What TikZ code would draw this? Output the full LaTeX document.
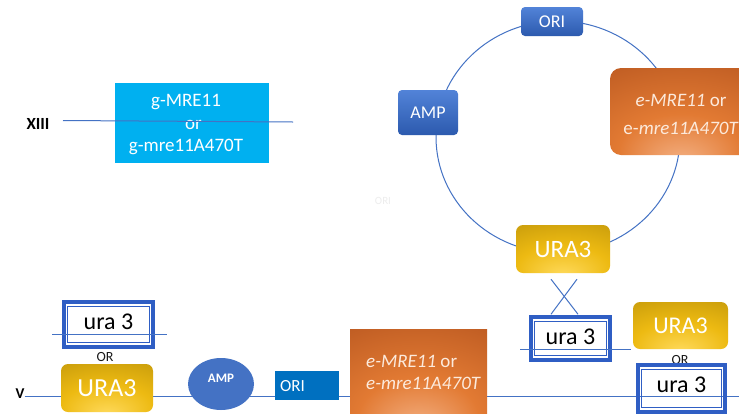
\documentclass[tikz,border=0pt]{standalone}
\usepackage{fontspec}
\setmainfont{Carlito}
\usetikzlibrary{shapes.geometric}

\definecolor{wire}{HTML}{4472C4}
\definecolor{sky}{HTML}{00B0F0}
\definecolor{ablueTop}{HTML}{5283D8}
\definecolor{ablueBot}{HTML}{2C5AAE}
\definecolor{oriBlue}{HTML}{0070C0}
\definecolor{ampBlue}{HTML}{4472C4}
\definecolor{orgDark}{HTML}{B0501C}
\definecolor{orgMid}{HTML}{E27A33}
\definecolor{orgLight}{HTML}{F4B184}
\definecolor{goldDark}{HTML}{B48C08}
\definecolor{goldMid}{HTML}{EDBA12}
\definecolor{goldLight}{HTML}{FFDA5C}
\definecolor{uraBlue}{HTML}{2F5EC4}
\definecolor{peach}{HTML}{FCEADC}

% glows that are brightest near the lower middle of the shape
\pgfdeclareradialshading{orangeglow}{\pgfpoint{0bp}{-30bp}}{%
  color(0bp)=(orgLight); color(22bp)=(orgMid); color(60bp)=(orgDark); color(100bp)=(orgDark)}
\pgfdeclareradialshading{goldglow}{\pgfpoint{0bp}{-28bp}}{%
  color(0bp)=(goldLight); color(25bp)=(goldMid); color(62bp)=(goldDark); color(100bp)=(goldDark)}

\tikzset{
  wireline/.style={draw=wire, line width=1pt},
  bluebox/.style={rounded corners=4pt, top color=ablueTop, bottom color=ablueBot,
    text=white, inner sep=0pt, font=\fontsize{18}{20}\selectfont},
  goldbox/.style={rounded corners=7pt, shade, shading=goldglow, text=white, inner sep=0pt,
    minimum width=94pt, minimum height=48pt, font=\fontsize{25}{28}\selectfont},
  orangebox/.style={shade, shading=orangeglow, inner sep=0pt},
  uratext/.style={text=black, font=\fontsize{24}{26}\selectfont},
  urabox/.style={draw=uraBlue, line width=3.5pt, inner sep=0pt},
  urainner/.style={draw=uraBlue, line width=1.2pt},
  ortext/.style={text=black!90, font=\fontsize{14}{15}\selectfont, inner sep=0pt},
  chromlabel/.style={text=black, font=\bfseries\fontsize{17}{18}\selectfont, inner sep=0pt},
  etext/.style={text=peach, font=\fontsize{19}{22}\selectfont, inner sep=0pt},
}

\begin{document}
\begin{tikzpicture}[x=1pt, y=-1pt]
\useasboundingbox[fill=white] (0,0) rectangle (739,413);

% ---------- chromosome XIII ----------
\node[chromlabel] (xiii) at (38,124) {XIII};
\node[fill=sky, minimum width=154pt, minimum height=80pt, inner sep=0pt] (gbox) at (192,123) {};
\node[text=white, align=center, inner sep=0pt, font=\fontsize{19}{22.5}\selectfont] (gtext) at (186,125)
  {g-MRE11\\\hspace*{15pt}or\\g-mre11A470T};
\coordinate (xiiiA) at (63,120.5);
\coordinate (xiiiB) at (293,122);
\draw[wireline] (xiiiA) -- (xiiiB);

% ---------- plasmid ----------
\node[ellipse, draw=wire, line width=1pt, minimum width=244pt, minimum height=232pt, inner sep=0pt] (ring) at (558,137) {};
\node[bluebox, minimum width=62pt, minimum height=29pt] (oriP) at (552,21.5) {ORI};
\node[bluebox, minimum width=60pt, minimum height=45pt] (ampP) at (428,112.5) {AMP};
\node[orangebox, rounded corners=11pt, minimum width=142pt, minimum height=87pt] (eP) at (681,111.5) {};
\node[etext, align=center] (ePtext) at (681,114.5) {\textit{e-MRE11} or\\[6pt]e-\textit{mre11A470T}};
\node[goldbox] (uraP) at (563,249) {URA3};

\node[text=black!7, font=\fontsize{11}{12}\selectfont, inner sep=0pt] (ghost) at (383,201) {ORI};

% integration cross-over
\node[urabox, minimum width=79pt, minimum height=43pt] (uraC) at (570.5,338.5) {};
\draw[urainner] ([shift={(5,6)}]uraC.north west) rectangle ([shift={(-5,-6)}]uraC.south east);
\node[uratext] (uraCtext) at (570.5,337) {ura 3};
\coordinate (cL) at (520,349);
\coordinate (cR) at (631,349);
\draw[wireline] (cL) -- (cR);
\draw[wire, line width=1pt] ([shift={(-12,6)}]uraP.south) -- ([shift={(7.5,-1)}]uraC.north);
\draw[wire, line width=1pt] ([shift={(14,6)}]uraP.south) -- ([shift={(-19.5,-1)}]uraC.north);

% right-hand alternatives
\node[goldbox, minimum width=95pt, minimum height=47pt, font=\fontsize{24}{26}\selectfont] (uraR) at (680.5,325.5) {URA3};
\node[ortext] (orR) at (680,360) {OR};

% ---------- chromosome V ----------
\node[chromlabel, font=\bfseries\fontsize{15}{16}\selectfont] (v) at (20,394) {V};
\coordinate (vEnd) at (739,396.5);
\draw[wireline] (v.east |- vEnd) -- (vEnd);

\node[urabox, minimum width=89pt, minimum height=45pt] (uraL) at (108.5,324.5) {};
\draw[urainner] ([shift={(5,6)}]uraL.north west) rectangle ([shift={(-5,-6)}]uraL.south east);
\node[uratext] (uraLtext) at (108.5,322) {ura 3};
\coordinate (lL) at (52,334);
\coordinate (lR) at (167,334);
\draw[wireline] (lL) -- (lR);
\node[ortext] (orL) at (105,357) {OR};

\node[goldbox, minimum width=92pt, minimum height=48pt, font=\fontsize{26}{28}\selectfont] (uraV) at (107,388) {URA3};
\node[ellipse, fill=ampBlue, minimum width=66pt, minimum height=52pt, inner sep=0pt] (ampV) at (221,384) {};
\node[text=white, font=\bfseries\fontsize{13}{14}\selectfont, inner sep=0pt] (ampVtext) at (221,378) {AMP};
\node[fill=oriBlue, minimum width=64pt, minimum height=29pt, inner sep=0pt] (oriV) at (307,385.5) {};
\node[text=white, anchor=west, font=\fontsize{17}{18}\selectfont, inner sep=0pt] (oriVtext) at (280,386.5) {ORI};
\node[orangebox, minimum width=137pt, minimum height=92pt] (eV) at (418.5,375) {};
\node[etext, anchor=west, align=left, font=\itshape\fontsize{19}{21.5}\selectfont] (eVtext) at (366,372.5)
  {e-MRE11 \upshape or\\e-mre11A470T};

\node[urabox, minimum width=87pt, minimum height=47pt] (uraVR) at (681.5,388.5) {};
\draw[urainner] ([shift={(5,6)}]uraVR.north west) rectangle ([shift={(-5,-6)}]uraVR.south east);
\node[uratext] (uraVRtext) at (681.5,385) {ura 3};
\end{tikzpicture}
\end{document}
